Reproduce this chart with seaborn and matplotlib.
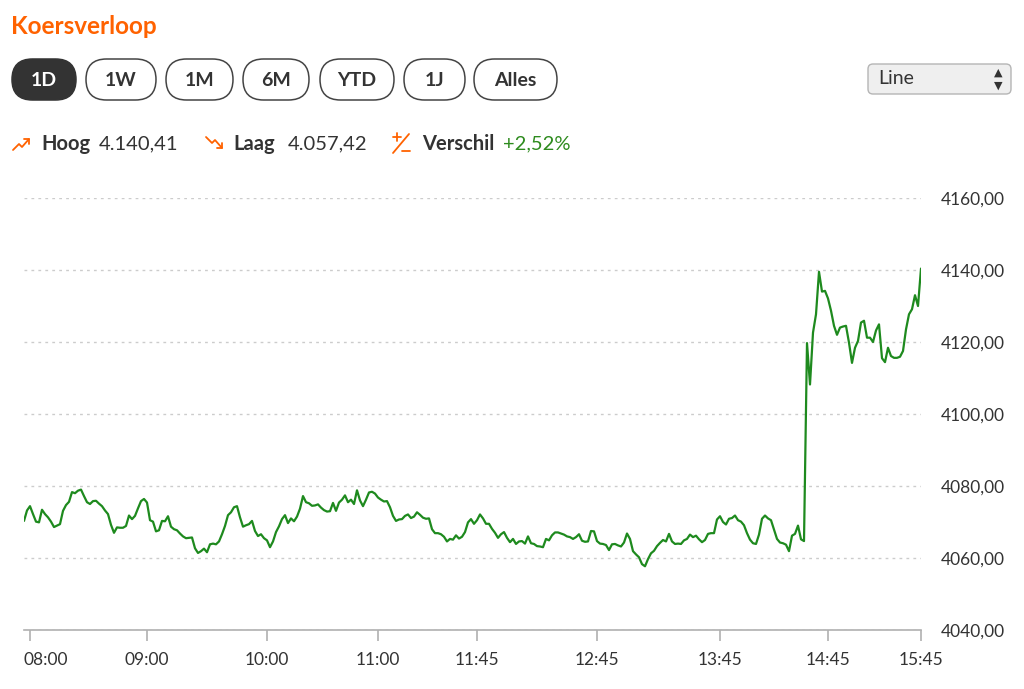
import pandas as pd
import matplotlib
matplotlib.use("Agg")
import matplotlib.pyplot as plt
import matplotlib.transforms as mtransforms
import seaborn as sns
from matplotlib.patches import FancyBboxPatch
from matplotlib.ticker import FuncFormatter

# kleuren
ORANGE = '#FF6200'
GREEN = '#1E8A1E'
DARK = '#333333'
GRID = '#cccccc'

# koersdata (1D), één punt per tijdstap
prices = [
    4070.3, 4073.2, 4074.4, 4072.2, 4070.1, 4069.9, 4073.4, 4072.2, 4071.3, 4070.1,
    4068.6, 4069.0, 4069.4, 4073.1, 4074.7, 4075.6, 4078.3, 4078.0, 4078.7, 4079.0,
    4077.2, 4075.5, 4075.0, 4075.8, 4075.9, 4075.1, 4074.4, 4073.2, 4072.2, 4069.2,
    4067.0, 4068.5, 4068.4, 4068.4, 4068.9, 4071.8, 4070.8, 4071.7, 4073.8, 4075.8,
    4076.4, 4075.4, 4070.5, 4070.1, 4067.4, 4067.7, 4070.3, 4070.2, 4071.6, 4068.7,
    4068.0, 4067.7, 4066.8, 4066.0, 4065.5, 4065.6, 4065.7, 4062.7, 4061.4, 4061.9,
    4062.6, 4061.6, 4063.8, 4064.0, 4063.8, 4064.6, 4066.6, 4068.9, 4071.9, 4072.7,
    4074.1, 4074.4, 4071.3, 4068.7, 4069.1, 4069.4,
    4070.3, 4067.5, 4066.1, 4066.6, 4065.5, 4064.9, 4063.0, 4064.6, 4067.2, 4068.8,
    4070.8, 4071.9, 4069.7, 4071.0, 4070.2, 4071.5, 4073.7, 4077.2, 4075.5, 4075.2,
    4074.5, 4074.6, 4074.9, 4074.0, 4073.3, 4072.9, 4073.0, 4075.3, 4073.1, 4075.4,
    4076.2, 4077.4, 4075.5, 4076.2, 4075.0, 4078.8, 4076.0, 4074.4, 4076.2, 4078.2,
    4078.4, 4077.9, 4076.8, 4076.2, 4075.7, 4075.8, 4074.1, 4071.7, 4070.3, 4070.7,
    4070.8, 4071.7, 4072.1, 4071.1, 4071.5, 4072.7, 4072.0, 4071.2, 4070.9, 4071.0,
    4068.0, 4066.9, 4066.9, 4066.6, 4065.9, 4064.6, 4065.3, 4065.1, 4066.3, 4065.4,
    4065.9, 4067.2, 4069.9,
    4070.8, 4069.5, 4070.5, 4072.1, 4071.0, 4069.5, 4069.5, 4068.1, 4067.0, 4065.6,
    4066.6, 4067.2, 4065.6, 4064.4, 4065.3, 4063.9, 4064.6, 4064.7, 4064.0, 4066.0,
    4064.1, 4063.9, 4063.3, 4063.2, 4063.0, 4065.3, 4064.9, 4066.3, 4067.1, 4067.1,
    4066.8, 4066.5, 4066.0, 4065.8, 4065.3, 4065.8, 4066.6, 4064.8, 4064.5, 4064.6,
    4067.5, 4067.4, 4064.7, 4064.0, 4063.9, 4063.6, 4062.2, 4063.8, 4063.9, 4063.5,
    4063.2, 4064.3, 4066.8, 4065.3, 4061.9, 4061.0, 4060.2, 4058.3, 4057.7, 4059.7,
    4061.3, 4062.0, 4063.3, 4064.2, 4065.0, 4064.6, 4066.7, 4064.6, 4063.9, 4064.0,
    4063.9, 4064.9, 4065.3,
    4066.5, 4065.8, 4066.2, 4065.2, 4064.4, 4065.0, 4066.7, 4066.9, 4066.9, 4070.7,
    4071.6, 4070.0, 4069.3, 4070.9, 4071.1, 4071.8, 4070.5, 4070.1, 4069.1, 4066.9,
    4065.1, 4064.1, 4063.9, 4066.5, 4070.9, 4071.8, 4071.0, 4070.5, 4067.9, 4065.3,
    4064.3, 4064.1, 4063.7, 4061.9, 4066.2, 4066.7, 4069.0, 4065.2, 4064.7,
    4119.7, 4108.2, 4122.6, 4127.7, 4139.5, 4134.0, 4134.2, 4132.1, 4128.7, 4124.5,
    4122.0, 4124.0, 4124.3, 4124.5, 4119.8, 4114.2, 4118.4, 4120.3, 4125.4, 4125.9,
    4121.2, 4121.2, 4120.0, 4123.2, 4124.9, 4115.5, 4114.4, 4118.4, 4116.1, 4115.6,
    4115.6, 4115.9, 4117.5, 4123.5, 4127.7, 4129.1, 4133.0, 4130.0, 4140.4,
]

tick_idx = [2, 41, 81, 118, 151, 191, 232, 268, 299]
tick_labels = ['08:00', '09:00', '10:00', '11:00', '11:45', '12:45', '13:45', '14:45', '15:45']
y_ticks = [4040, 4060, 4080, 4100, 4120, 4140, 4160]

periods = ['1D', '1W', '1M', '6M', 'YTD', '1J', 'Alles']
hoog = '4.140,41'
laag = '4.057,42'
verschil = '+2,52%'

sns.set_theme(style='white')
plt.rcParams['font.family'] = ['Lato', 'DejaVu Sans']

fig = plt.figure(figsize=(10.24, 6.89), dpi=100)
W, H = 1024, 689

# ---- grafiek ----
ax = fig.add_axes([24 / W, 1 - 630 / H, (921 - 24) / W, (630 - 198) / H])
df = pd.DataFrame({'idx': range(len(prices)), 'koers': prices})
sns.lineplot(data=df, x='idx', y='koers', color=GREEN, linewidth=1.6, ax=ax)

ax.set_xlim(0, len(prices) - 1)
ax.set_ylim(y_ticks[0], y_ticks[-1])
ax.set_xlabel('')
ax.set_ylabel('')
ax.set_yticks(y_ticks)
ax.yaxis.set_major_formatter(FuncFormatter(lambda v, p: f'{v:.2f}'.replace('.', ',')))
ax.yaxis.tick_right()
ax.yaxis.grid(True, linestyle=(0, (2, 3)), color=GRID, linewidth=1)
ax.set_xticks(tick_idx)
ax.set_xticklabels(tick_labels)

for s in ['top', 'left', 'right']:
    ax.spines[s].set_visible(False)
ax.spines['bottom'].set_color('#b0b0b0')
ax.spines['bottom'].set_linewidth(1.2)

ax.tick_params(axis='y', length=0, pad=14, labelsize=12.5, labelcolor=DARK)
ax.tick_params(axis='x', bottom=True, length=8, width=1.2, color='#b0b0b0',
               direction='out', pad=8, labelsize=12.5, labelcolor=DARK)

# eerste label tegen de linkerrand aanschuiven
first = ax.get_xticklabels()[0]
first.set_horizontalalignment('left')
first.set_transform(first.get_transform() +
                    mtransforms.ScaledTranslation(-7 / 100, 0, fig.dpi_scale_trans))

# ---- kop (pixelcoördinaten) ----
hd = fig.add_axes([0, 0, 1, 1])
hd.set_xlim(0, W)
hd.set_ylim(H, 0)
hd.axis('off')
hd.patch.set_alpha(0)

hd.text(11, 26, 'Koersverloop', color=ORANGE, fontsize=17.5, fontweight='bold',
        ha='left', va='center')

btn_x = [(12, 76), (86, 156), (166, 233), (243, 309), (320, 394), (404, 465), (474, 557)]
for i, (lab, (x0, x1)) in enumerate(zip(periods, btn_x)):
    active = i == 0
    hd.add_patch(FancyBboxPatch((x0, 59), x1 - x0, 41,
                                boxstyle='round,pad=0,rounding_size=20.5',
                                facecolor=DARK if active else 'white',
                                edgecolor=DARK if active else '#444444',
                                linewidth=1.1))
    hd.text((x0 + x1) / 2, 80, lab, color='white' if active else DARK,
            fontsize=14, fontweight='bold', ha='center', va='center')

# keuzelijst
hd.add_patch(FancyBboxPatch((868, 64), 143, 30, boxstyle='round,pad=0,rounding_size=5',
                            facecolor='#efefef', edgecolor='#b5b5b5', linewidth=1))
hd.text(878, 79, 'Line', color=DARK, fontsize=14, ha='left', va='center')
hd.text(998, 73, '▲', color=DARK, fontsize=8, ha='center', va='center',
        family=['DejaVu Sans'])
hd.text(998, 86, '▼', color=DARK, fontsize=8, ha='center', va='center',
        family=['DejaVu Sans'])

# statistieken
iy = 144
hd.plot([13, 19, 22, 29], [150, 144, 147, 139], color=ORANGE, lw=1.3)
hd.plot([24, 29, 29], [139, 139, 144], color=ORANGE, lw=1.3)
hd.text(41, iy, 'Hoog', color=DARK, fontsize=14.5, fontweight='bold', ha='left', va='center')
hd.text(99, iy, hoog, color=DARK, fontsize=14.5, ha='left', va='center')

hd.plot([206, 212, 215, 222], [137, 143, 140, 148], color=ORANGE, lw=1.3)
hd.plot([217, 222, 222], [148, 148, 143], color=ORANGE, lw=1.3)
hd.text(233, iy, 'Laag', color=DARK, fontsize=14.5, fontweight='bold', ha='left', va='center')
hd.text(288, iy, laag, color=DARK, fontsize=14.5, ha='left', va='center')

hd.plot([393, 409], [153, 134], color=ORANGE, lw=1.3)
hd.plot([393, 401], [137, 137], color=ORANGE, lw=1.3)
hd.plot([397, 397], [133, 141], color=ORANGE, lw=1.3)
hd.plot([402, 410], [151, 151], color=ORANGE, lw=1.3)
hd.text(422, iy, 'Verschil', color=DARK, fontsize=14.5, fontweight='bold', ha='left', va='center')
hd.text(503, iy, verschil, color='#2E8B1E', fontsize=14.5, ha='left', va='center')

fig.savefig('out.png', dpi=100)
